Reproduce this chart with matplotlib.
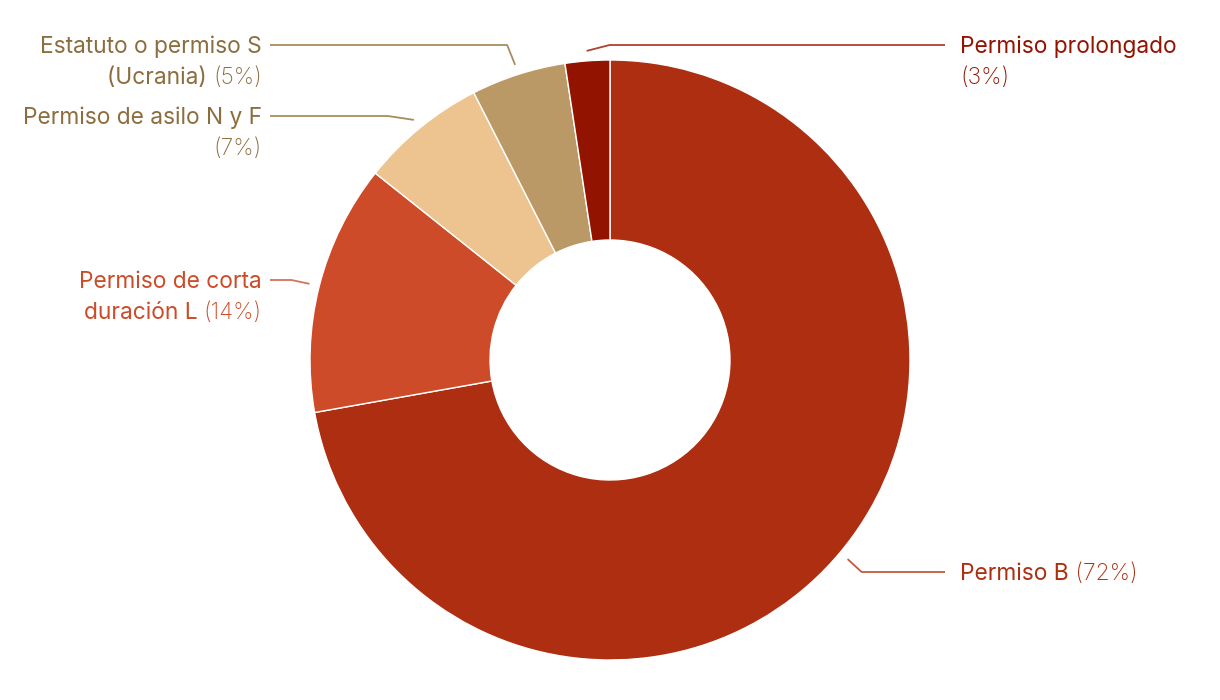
import numpy as np
import matplotlib
matplotlib.use("Agg")
import matplotlib.pyplot as plt

plt.rcParams['font.family'] = ['Inter', 'DejaVu Sans']

# data (clockwise from 12 o'clock)
labels = ['Permiso B', 'Permiso de corta\nduración L', 'Permiso de asilo N y F',
          'Estatuto o permiso S\n(Ucrania)', 'Permiso prolongado']
pct_text = ['(72%)', '(14%)', '(7%)', '(5%)', '(3%)']
values = [72.2, 13.5, 6.8, 5.1, 2.4]
colors = ['#ad2e10', '#cd4b28', '#edc48f', '#bb9966', '#921300']
text_colors = ['#ad2e10', '#cc4b28', '#8c6d3e', '#8c6d3e', '#921300']
line_colors = ['#c25a40', '#d7735a', '#a88c5e', '#a88c5e', '#b04030']

fig = plt.figure(figsize=(12.2, 7), dpi=100)
ax = fig.add_axes([0, 0, 1, 1])

cx, cy, R = 610, 340, 300
wedges, _ = ax.pie(values, colors=colors, startangle=90, counterclock=False,
                   center=(cx, cy), radius=R, frame=True,
                   wedgeprops=dict(width=180, edgecolor='white', linewidth=1))
ax.set_xlim(0, 1220)
ax.set_ylim(0, 700)
ax.set_aspect('equal')
ax.axis('off')

# label layout: (side, y of first line, horizontal end of leader, pct on own line)
layout = [('r', 700 - 572, 945, False),
          ('l', 700 - 280, 270, False),
          ('l', 700 - 116, 270, True),
          ('l', 700 - 45, 270, False),
          ('r', 700 - 45, 945, True)]
elbow_dx = [14, -18, -26, -8, 23]
fs = 16.4
lh = 31
dy = -2  # small baseline nudge

for w, lab, pt, tc, lc, (side, ly, lx, own), edx in zip(wedges, labels, pct_text, text_colors,
                                                       line_colors, layout, elbow_dx):
    ang = np.deg2rad((w.theta1 + w.theta2) / 2)
    sx, sy = cx + 310 * np.cos(ang), cy + 310 * np.sin(ang)
    ex, ey = sx + edx, ly
    ax.plot([sx, ex, lx], [sy, ey, ly], color=lc, lw=1.3, solid_capstyle='butt')
    lines = lab.split('\n')
    ha = 'left' if side == 'r' else 'right'
    tx = lx + 15 if side == 'r' else lx - 8
    ty = ly + dy
    if own:
        for i, ln in enumerate(lines):
            ax.text(tx, ty - i * lh, ln, color=tc, fontsize=fs, ha=ha, va='center')
        ax.text(tx, ty - len(lines) * lh, pt, color=tc, fontsize=fs,
                fontweight='light', ha=ha, va='center')
        continue
    for i, ln in enumerate(lines[:-1]):
        ax.text(tx, ty - i * lh, ln, color=tc, fontsize=fs, ha=ha, va='center')
    yl = ty - (len(lines) - 1) * lh
    if side == 'r':
        t = ax.text(tx, yl, lines[-1], color=tc, fontsize=fs, ha='left', va='center')
        ax.annotate(' ' + pt, xy=(1, 0.5), xycoords=t, color=tc, fontsize=fs,
                    fontweight='light', ha='left', va='center')
    else:
        p = ax.text(tx, yl, pt, color=tc, fontsize=fs, fontweight='light',
                    ha='right', va='center')
        ax.annotate(lines[-1] + ' ', xy=(0, 0.5), xycoords=p, color=tc, fontsize=fs,
                    ha='right', va='center')

fig.savefig('out.png', dpi=100, facecolor='white')
